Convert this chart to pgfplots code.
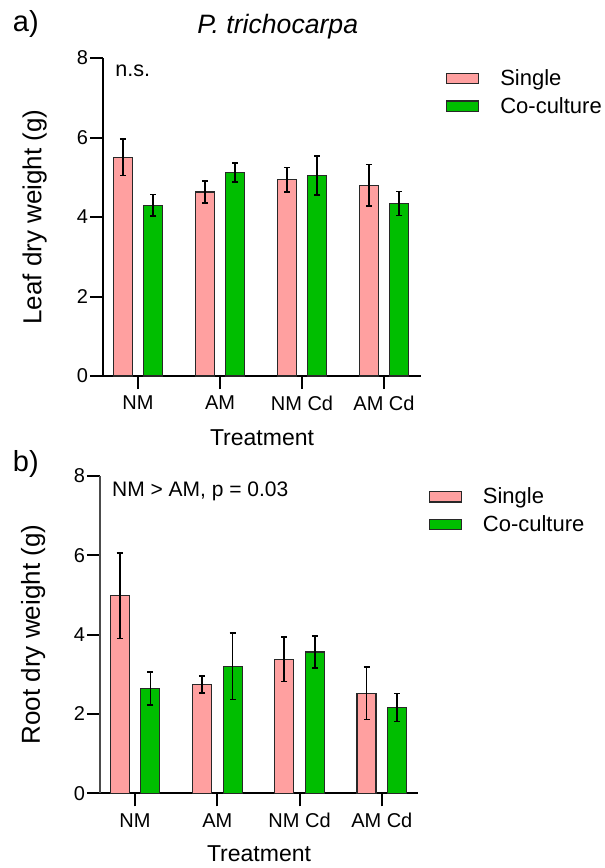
\documentclass[border=0pt]{standalone}
\usepackage{fontspec}
\setmainfont{Liberation Sans}
\usepackage{pgfplots}
\pgfplotsset{compat=1.18}

\definecolor{single}{RGB}{255,160,160}
\definecolor{cocult}{RGB}{0,190,0}
\definecolor{edge}{RGB}{40,40,40}

\pgfplotsset{
  panel/.style={
    scale only axis,
    width=159pt,
    height=159pt,
    xmin=-0.427, xmax=3.451,
    ymin=0, ymax=8,
    axis x line*=bottom,
    axis y line*=left,
    axis line style={line width=1pt, black},
    xtick={0,1,2,3},
    xticklabels={NM,AM,NM Cd,AM Cd},
    ytick={0,2,4,6,8},
    tick align=outside,
    major tick length=6.5pt,
    tick style={line width=1pt, black},
    /pgf/number format/assume math mode=true,
    ticklabel style={font=\fontsize{10}{12}\selectfont},
    yticklabel style={xshift=2.5pt},
    ybar,
    bar width=0.2317,
    xlabel=Treatment,
    xlabel style={font=\fontsize{11.5}{13}\selectfont, inner sep=0pt, anchor=base},
    ylabel style={font=\fontsize{13}{15}\selectfont, inner sep=0pt, anchor=south},
    legend image code/.code={\draw[#1, line width=0.6pt] (0pt,0.9pt) rectangle (16pt,6.1pt);},
    legend style={draw=none, fill=none, inner sep=0pt, anchor=north west,
      font=\fontsize{11}{13}\selectfont, row sep=3.35pt, column sep=10.5pt,
      nodes={inner sep=0pt, text height=8pt, text depth=2.5pt, anchor=base west}},
    legend cell align=left,
    error bars/error bar style={line width=0.8pt, black},
    error bars/error mark options={rotate=90, mark size=1.5pt, line width=0.8pt, black},
  },
  sgl/.style={fill=single, draw=edge, line width=0.55pt, bar shift=-0.186,
    error bars/.cd, y dir=both, y explicit},
  coc/.style={fill=cocult, draw=edge, line width=0.55pt, bar shift=0.186,
    error bars/.cd, y dir=both, y explicit},
}

\begin{document}
\begin{tikzpicture}
\useasboundingbox (0,0) rectangle (302.5pt,-434pt);

% panel a: leaf
\begin{axis}[panel,
    at={(103*0.5pt,-376*0.5pt)}, anchor=south west,
    ylabel={Leaf dry weight (g)},
    ylabel style={at={(axis description cs:-0.1755,0.5)}},
    xlabel style={at={(axis description cs:0.5,-0.219)}},
    legend style={at={(axis description cs:1.0777,0.965)}},
]
\addplot[sgl] coordinates {
  (0,5.50) +- (0,0.46)
  (1,4.63) +- (0,0.28)
  (2,4.94) +- (0,0.31)
  (3,4.80) +- (0,0.52)
};
\addplot[coc] coordinates {
  (0,4.30) +- (0,0.27)
  (1,5.12) +- (0,0.24)
  (2,5.05) +- (0,0.49)
  (3,4.34) +- (0,0.30)
};
\legend{Single,Co-culture}
\end{axis}

% panel b: root
\begin{axis}[panel,
    at={(100*0.5pt,-793.3*0.5pt)}, anchor=south west,
    height=158.8pt,
    xmin=-0.426, xmax=3.44,
    y axis line style={black!70},
    ylabel={Root dry weight (g)},
    ylabel style={at={(axis description cs:-0.171,0.5)}},
    xlabel style={at={(axis description cs:0.5,-0.216)}},
    legend style={at={(axis description cs:1.0324,0.9635)}},
]
\addplot[sgl] coordinates {
  (0,4.98) +- (0,1.08)
  (1,2.74) +- (0,0.22)
  (2,3.38) +- (0,0.56)
  (3,2.52) +- (0,0.66)
};
\addplot[coc] coordinates {
  (0,2.64) +- (0,0.41)
  (1,3.20) +- (0,0.84)
  (2,3.56) +- (0,0.41)
  (3,2.16) +- (0,0.35)
};
\legend{Single,Co-culture}
\end{axis}

% labels
\node[anchor=base west, inner sep=0pt, font=\fontsize{14.5}{16}\selectfont] at (12.5*0.5pt,-31.7*0.5pt) {a)};
\node[anchor=base west, inner sep=0pt, font=\fontsize{14.5}{16}\selectfont] at (12.5*0.5pt,-471.7*0.5pt) {b)};
\node[anchor=base west, inner sep=0pt, font=\fontsize{13.3}{15}\selectfont\itshape] at (197*0.5pt,-33.3*0.5pt) {P. trichocarpa};
\node[anchor=base west, inner sep=0pt, font=\fontsize{10.8}{12}\selectfont] at (115*0.5pt,-76.7*0.5pt) {n.s.};
\node[anchor=base west, inner sep=0pt, font=\fontsize{10.5}{12}\selectfont] at (111.7*0.5pt,-496.7*0.5pt) {NM > AM, p = 0.03};
\end{tikzpicture}
\end{document}
